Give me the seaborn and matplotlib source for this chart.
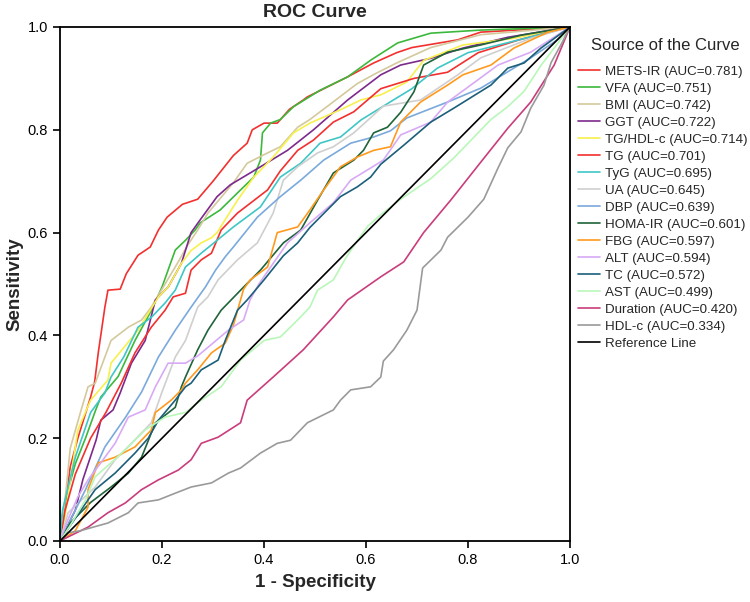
#!/usr/bin/env python3

import pandas as pd
import matplotlib
matplotlib.use("Agg")
import matplotlib.pyplot as plt
import seaborn as sns

# ROC curves (1 - specificity, sensitivity)
METS_IR_X = [0, 0.005, 0.01, 0.02, 0.035, 0.06, 0.068, 0.075, 0.088, 0.094, 0.118, 0.13, 0.153, 0.177, 0.193,
             0.21, 0.24, 0.27, 0.30, 0.34, 0.367, 0.377, 0.40, 0.426, 0.45, 0.477, 0.485, 0.564, 0.615, 0.66,
             0.69, 0.78, 0.825, 1]
METS_IR_Y = [0, 0.03, 0.066, 0.144, 0.2, 0.28, 0.31, 0.366, 0.455, 0.488, 0.49, 0.52, 0.556, 0.572, 0.605,
             0.63, 0.655, 0.665, 0.70, 0.75, 0.774, 0.80, 0.813, 0.813, 0.84, 0.858, 0.864, 0.903, 0.93, 0.95,
             0.96, 0.975, 0.99, 1]

VFA_X = [0, 0.002, 0.016, 0.03, 0.05, 0.07, 0.08, 0.114, 0.147, 0.18, 0.2, 0.226, 0.246, 0.265, 0.275, 0.314,
         0.354, 0.38, 0.393, 0.397, 0.413, 0.432, 0.458, 0.51, 0.564, 0.61, 0.662, 0.727, 0.825, 1]
VFA_Y = [0, 0.04, 0.1, 0.15, 0.2, 0.255, 0.28, 0.32, 0.39, 0.45, 0.494, 0.566, 0.585, 0.605, 0.619, 0.644,
         0.683, 0.708, 0.741, 0.794, 0.813, 0.82, 0.845, 0.877, 0.903, 0.936, 0.969, 0.988, 0.994, 1]

BMI_X = [0, 0.005, 0.012, 0.02, 0.04, 0.055, 0.069, 0.1, 0.134, 0.16, 0.179, 0.2, 0.23, 0.25, 0.27, 0.29, 0.34,
         0.367, 0.407, 0.432, 0.466, 0.49, 0.53, 0.583, 0.62, 0.66, 0.727, 0.825, 1]
BMI_Y = [0, 0.04, 0.1, 0.18, 0.25, 0.3, 0.307, 0.39, 0.416, 0.43, 0.455, 0.49, 0.54, 0.575, 0.605, 0.638, 0.697,
         0.735, 0.755, 0.767, 0.805, 0.82, 0.85, 0.89, 0.91, 0.93, 0.96, 0.985, 1]

GGT_X = [0, 0.01, 0.03, 0.045, 0.071, 0.08, 0.104, 0.118, 0.14, 0.167, 0.187, 0.212, 0.238, 0.257, 0.275, 0.308,
         0.334, 0.393, 0.446, 0.497, 0.564, 0.629, 0.668, 0.727, 0.79, 0.878, 1]
GGT_Y = [0, 0.02, 0.06, 0.12, 0.197, 0.235, 0.255, 0.288, 0.346, 0.39, 0.469, 0.494, 0.54, 0.6, 0.625, 0.67,
         0.693, 0.728, 0.76, 0.80, 0.858, 0.907, 0.926, 0.939, 0.959, 0.98, 1]

TGHDL_X = [0, 0.01, 0.035, 0.06, 0.094, 0.1, 0.153, 0.193, 0.212, 0.238, 0.257, 0.277, 0.297, 0.308, 0.348,
           0.38, 0.418, 0.458, 0.49, 0.55, 0.59, 0.629, 0.68, 0.713, 0.79, 0.89, 1]
TGHDL_Y = [0, 0.05, 0.216, 0.274, 0.313, 0.346, 0.41, 0.475, 0.494, 0.54, 0.565, 0.58, 0.59, 0.6, 0.663,
           0.708, 0.747, 0.794, 0.813, 0.839, 0.858, 0.868, 0.893, 0.935, 0.965, 0.978, 1]

TG_X = [0, 0.01, 0.03, 0.06, 0.09, 0.12, 0.147, 0.179, 0.206, 0.222, 0.246, 0.257, 0.277, 0.297, 0.316, 0.348,
        0.407, 0.432, 0.466, 0.497, 0.536, 0.576, 0.629, 0.694, 0.76, 0.82, 0.9, 1]
TG_Y = [0, 0.06, 0.13, 0.2, 0.25, 0.307, 0.366, 0.416, 0.449, 0.475, 0.482, 0.527, 0.547, 0.56, 0.605, 0.638,
        0.683, 0.72, 0.76, 0.78, 0.815, 0.835, 0.88, 0.9, 0.912, 0.95, 0.975, 1]

TYG_X = [0, 0.005, 0.03, 0.06, 0.088, 0.1, 0.125, 0.153, 0.18, 0.206, 0.226, 0.246, 0.277, 0.308, 0.34, 0.393,
         0.432, 0.472, 0.51, 0.55, 0.59, 0.634, 0.69, 0.74, 0.8, 0.9, 1]
TYG_Y = [0, 0.06, 0.163, 0.25, 0.288, 0.319, 0.358, 0.416, 0.436, 0.463, 0.488, 0.533, 0.56, 0.585, 0.611, 0.65,
         0.708, 0.735, 0.774, 0.786, 0.819, 0.846, 0.88, 0.92, 0.95, 0.975, 1]

UA_X = [0, 0.016, 0.069, 0.108, 0.14, 0.179, 0.2, 0.226, 0.246, 0.27, 0.29, 0.31, 0.348, 0.387, 0.418, 0.438,
        0.466, 0.505, 0.536, 0.576, 0.634, 0.707, 0.78, 0.825, 0.923, 1]
UA_Y = [0, 0.055, 0.105, 0.158, 0.19, 0.23, 0.29, 0.358, 0.39, 0.455, 0.475, 0.508, 0.547, 0.58, 0.638, 0.702,
        0.728, 0.755, 0.767, 0.794, 0.846, 0.858, 0.907, 0.94, 0.978, 1]

DBP_X = [0, 0.02, 0.05, 0.088, 0.128, 0.16, 0.193, 0.226, 0.257, 0.285, 0.305, 0.324, 0.34, 0.387, 0.432, 0.472,
         0.517, 0.57, 0.615, 0.648, 0.68, 0.76, 0.825, 0.923, 0.99, 1]
DBP_Y = [0, 0.04, 0.1, 0.183, 0.24, 0.29, 0.358, 0.41, 0.455, 0.494, 0.527, 0.553, 0.572, 0.63, 0.67, 0.702,
         0.741, 0.774, 0.786, 0.798, 0.823, 0.854, 0.881, 0.94, 0.985, 1]

HOMA_X = [0, 0.02, 0.06, 0.1, 0.134, 0.16, 0.187, 0.226, 0.238, 0.246, 0.27, 0.29, 0.316, 0.36, 0.393, 0.438,
          0.472, 0.505, 0.536, 0.576, 0.595, 0.615, 0.642, 0.668, 0.694, 0.713, 0.76, 0.825, 0.904, 1]
HOMA_Y = [0, 0.035, 0.075, 0.105, 0.132, 0.163, 0.23, 0.26, 0.3, 0.319, 0.372, 0.41, 0.449, 0.494, 0.527, 0.58,
          0.605, 0.663, 0.716, 0.741, 0.76, 0.794, 0.805, 0.834, 0.874, 0.926, 0.951, 0.965, 0.984, 1]

FBG_X = [0, 0.03, 0.055, 0.055, 0.075, 0.108, 0.147, 0.179, 0.187, 0.218, 0.238, 0.246, 0.27, 0.297, 0.324, 0.34,
         0.36, 0.373, 0.407, 0.426, 0.466, 0.49, 0.517, 0.55, 0.583, 0.615, 0.648, 0.668, 0.707, 0.76, 0.79, 0.845,
         0.89, 0.957, 1]
FBG_Y = [0, 0.02, 0.066, 0.1, 0.152, 0.163, 0.183, 0.216, 0.25, 0.274, 0.294, 0.307, 0.333, 0.366, 0.385, 0.42,
         0.49, 0.508, 0.533, 0.6, 0.611, 0.644, 0.683, 0.728, 0.747, 0.76, 0.767, 0.815, 0.854, 0.887, 0.907, 0.926,
         0.959, 0.99, 1]

ALT_X = [0, 0.015, 0.035, 0.055, 0.08, 0.108, 0.134, 0.167, 0.187, 0.212, 0.246, 0.27, 0.3, 0.33, 0.36, 0.373,
         0.39, 0.413, 0.446, 0.49, 0.536, 0.57, 0.603, 0.634, 0.668, 0.727, 0.76, 0.859, 0.923, 1]
ALT_Y = [0, 0.04, 0.086, 0.119, 0.152, 0.19, 0.241, 0.255, 0.3, 0.346, 0.346, 0.36, 0.385, 0.41, 0.43, 0.47,
         0.5, 0.533, 0.58, 0.619, 0.658, 0.702, 0.722, 0.741, 0.79, 0.815, 0.854, 0.926, 0.951, 1]

TC_X = [0, 0.02, 0.055, 0.069, 0.108, 0.147, 0.173, 0.193, 0.226, 0.246, 0.257, 0.277, 0.31, 0.324, 0.348, 0.367,
        0.4, 0.438, 0.466, 0.49, 0.55, 0.583, 0.609, 0.629, 0.674, 0.727, 0.772, 0.845, 0.878, 0.91, 0.943, 1]
TC_Y = [0, 0.03, 0.08, 0.1, 0.132, 0.171, 0.2, 0.235, 0.274, 0.3, 0.307, 0.333, 0.352, 0.39, 0.449, 0.469,
        0.508, 0.555, 0.58, 0.61, 0.67, 0.689, 0.708, 0.733, 0.77, 0.815, 0.842, 0.887, 0.92, 0.93, 0.959, 1]

AST_X = [0, 0.02, 0.05, 0.069, 0.1, 0.134, 0.167, 0.206, 0.246, 0.277, 0.316, 0.354, 0.4, 0.432, 0.466, 0.49,
         0.505, 0.536, 0.56, 0.58, 0.603, 0.629, 0.668, 0.727, 0.772, 0.811, 0.845, 0.878, 0.91, 0.943, 1]
AST_Y = [0, 0.03, 0.08, 0.125, 0.152, 0.183, 0.216, 0.241, 0.25, 0.274, 0.3, 0.352, 0.39, 0.397, 0.43, 0.455,
         0.488, 0.508, 0.55, 0.58, 0.612, 0.635, 0.665, 0.705, 0.745, 0.785, 0.82, 0.845, 0.875, 0.925, 1]

DUR_X = [0, 0.02, 0.055, 0.094, 0.128, 0.16, 0.193, 0.232, 0.257, 0.277, 0.31, 0.354, 0.367, 0.418, 0.477, 0.536,
         0.564, 0.629, 0.674, 0.713, 0.766, 0.825, 0.878, 0.923, 0.969, 1]
DUR_Y = [0, 0.01, 0.027, 0.055, 0.074, 0.1, 0.119, 0.138, 0.158, 0.19, 0.202, 0.23, 0.274, 0.319, 0.372, 0.436,
         0.469, 0.514, 0.543, 0.6, 0.663, 0.737, 0.803, 0.854, 0.926, 1]

HDL_X = [0, 0.016, 0.04, 0.094, 0.134, 0.153, 0.193, 0.226, 0.257, 0.297, 0.33, 0.354, 0.393, 0.426, 0.452, 0.485,
         0.536, 0.55, 0.57, 0.609, 0.629, 0.634, 0.654, 0.68, 0.7, 0.711, 0.747, 0.76, 0.8, 0.831, 0.859, 0.878,
         0.904, 0.923, 0.949, 0.963, 0.982, 1]
HDL_Y = [0, 0.016, 0.02, 0.035, 0.055, 0.074, 0.08, 0.093, 0.105, 0.113, 0.132, 0.142, 0.171, 0.19, 0.196, 0.23,
         0.255, 0.274, 0.294, 0.3, 0.319, 0.35, 0.372, 0.41, 0.449, 0.531, 0.566, 0.591, 0.63, 0.665, 0.726, 0.765,
         0.796, 0.842, 0.887, 0.931, 0.965, 1]

REF_X = [0, 1]
REF_Y = [0, 1]

LABELS = ["METS-IR (AUC=0.781)", "VFA (AUC=0.751)", "BMI (AUC=0.742)", "GGT (AUC=0.722)",
          "TG/HDL-c (AUC=0.714)", "TG (AUC=0.701)", "TyG (AUC=0.695)", "UA (AUC=0.645)",
          "DBP (AUC=0.639)", "HOMA-IR (AUC=0.601)", "FBG (AUC=0.597)", "ALT (AUC=0.594)",
          "TC (AUC=0.572)", "AST (AUC=0.499)", "Duration (AUC=0.420)", "HDL-c (AUC=0.334)",
          "Reference Line"]
SERIES_X = [METS_IR_X, VFA_X, BMI_X, GGT_X, TGHDL_X, TG_X, TYG_X, UA_X, DBP_X, HOMA_X, FBG_X, ALT_X,
            TC_X, AST_X, DUR_X, HDL_X, REF_X]
SERIES_Y = [METS_IR_Y, VFA_Y, BMI_Y, GGT_Y, TGHDL_Y, TG_Y, TYG_Y, UA_Y, DBP_Y, HOMA_Y, FBG_Y, ALT_Y,
            TC_Y, AST_Y, DUR_Y, HDL_Y, REF_Y]
COLORS = ["#f2302f", "#3cb83c", "#d4c99c", "#7d2a8c", "#f7f04d", "#f2302f", "#3fc6c6", "#cfcfcf",
          "#7aa9dc", "#1f643a", "#ff9a1f", "#d8aaf5", "#1b5f7a", "#b9f7b9", "#c93d7c", "#9a9a9a", "#000000"]

COL_HUE = "Source of the Curve"

rows = []
for label, xs, ys in zip(LABELS, SERIES_X, SERIES_Y):
    for i, (x, y) in enumerate(zip(xs, ys)):
        rows.append({COL_HUE: label, "fpr": x, "tpr": y, "step": i})
df = pd.DataFrame(rows)

sns.set_style("ticks")
plt.rcParams["font.family"] = ["Liberation Sans", "DejaVu Sans"]

fig = plt.figure(figsize=(7.5, 6.02), dpi=100)
ax = fig.add_axes([60 / 750, 1 - 541 / 602, 510 / 750, 514 / 602])

sns.lineplot(data=df, x="fpr", y="tpr", hue=COL_HUE, hue_order=LABELS,
             palette=dict(zip(LABELS, COLORS)), sort=False, estimator=None,
             linewidth=1.2, ax=ax)

ax.set_xlim(0, 1)
ax.set_ylim(0, 1)
ax.set_xticks([0, 0.2, 0.4, 0.6, 0.8, 1.0])
ax.set_yticks([0, 0.2, 0.4, 0.6, 0.8, 1.0])
ax.set_xticklabels(["0.0", "0.2", "0.4", "0.6", "0.8", "1.0"])
ax.set_yticklabels(["0.0", "0.2", "0.4", "0.6", "0.8", "1.0"])
ax.tick_params(direction="out", length=5, width=1.2, labelsize=10.5, colors="black")
for side in ["top", "right", "left", "bottom"]:
    ax.spines[side].set_visible(True)
    ax.spines[side].set_linewidth(1.3)
    ax.spines[side].set_color("black")

ax.set_title("ROC Curve", fontsize=14, fontweight="bold", pad=7)
ax.set_xlabel("1 - Specificity", fontsize=13.5, fontweight="bold", labelpad=5)
ax.set_ylabel("Sensitivity", fontsize=13.5, fontweight="bold", labelpad=3)

# legend without its own title, the title is placed as a separate text above it
sns.move_legend(ax, "upper left", bbox_to_anchor=(573 / 750, 1 - 60 / 602),
                bbox_transform=fig.transFigure, frameon=False, fontsize=9.6,
                title=None, handlelength=1.65, handletextpad=0.38,
                labelspacing=0.35, borderaxespad=0)
fig.text(665 / 750, 1 - 46 / 602, COL_HUE, fontsize=12, ha="center", va="center")

fig.savefig("out.png", dpi=100)
